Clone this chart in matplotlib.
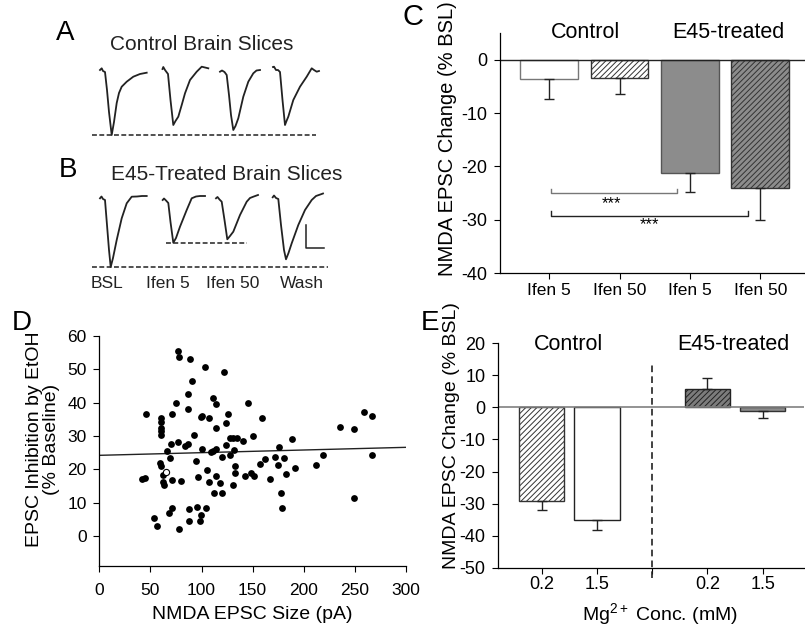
import numpy as np
import matplotlib
matplotlib.use('Agg')
import matplotlib.pyplot as plt

plt.rcParams['font.family'] = ['Liberation Sans', 'DejaVu Sans']
plt.rcParams['axes.unicode_minus'] = False
plt.rcParams['hatch.linewidth'] = 0.7
plt.rcParams['mathtext.fontset'] = 'custom'
plt.rcParams['mathtext.rm'] = 'Liberation Sans'
plt.rcParams['mathtext.it'] = 'Liberation Sans:italic'
plt.rcParams['mathtext.bf'] = 'Liberation Sans:bold'

# ---------------- A/B: example NMDA EPSC traces ----------------
# time from trace start and current relative to baseline (arbitrary units, negative = inward)
a_bsl_t = [0, 1.7, 3, 5, 7, 9, 11.7, 14, 16.7, 19, 21.7, 26.7, 33.3, 40, 46.7]
a_bsl_i = [1.5, 3.2, 0.5, -0.5, -18.5, -40.5, -63.5, -50.5, -31.5, -21.5, -15.2, -10.2, -5.2, -2.5, -1.2]
a_if5_t = [0, 0.8, 2.5, 5.5, 8, 10.8, 13, 15.8, 19.5, 22.5, 27.5, 34.2, 39.2, 42.5, 45.8]
a_if5_i = [1, 3, 0, -4, -30, -55, -51, -46.7, -34, -23.3, -10, -1.7, 3.3, 2.5, 1.7]
a_if50_t = [0, 2, 4.5, 6.7, 9, 11, 13.3, 15.5, 18.3, 23.3, 28.3, 33.3, 36.5, 40]
a_if50_i = [-0.2, 1, -0.5, -3.5, -23.5, -43.5, -58.5, -54.5, -46.8, -25.2, -10.2, -1.8, 1, 1.5]
a_wash_t = [0, 1, 3, 5, 7, 9.5, 12, 13.5, 15.3, 20.3, 27, 33.7, 38.7, 41, 43.7, 46]
a_wash_i = [3.5, 3.8, 0.5, 0.5, -1.5, -29.5, -54.5, -50.5, -46.2, -29.5, -16.2, -6.2, 2.2, 0.5, -1.2, -0.5]

b_bsl_t = [0, 1.5, 3, 5, 7, 9, 10.7, 13, 16.7, 21.7, 26.7, 31.7, 37, 42, 46.7]
b_bsl_i = [-0.3, 1.5, -1, -2, -27, -52, -69, -60, -42, -20.3, -5.3, 1.3, 1.5, 2, 2]
b_if5_t = [0, 1.3, 3.3, 5.6, 7.8, 10.6, 13.3, 17.3, 24, 29, 33.3, 37.3, 42.3]
b_if5_i = [0, 1.5, -0.5, -3, -22, -42.7, -38, -26.7, -10, 1.7, 3.5, 4, 4]
b_if50_t = [0, 1.5, 3.5, 5.7, 8.5, 11.3, 14, 17.3, 24, 30.7, 34, 37.3, 42]
b_if50_i = [1.2, 2.5, 0, -2.2, -20.5, -39.8, -36.5, -32.2, -15.5, -2.2, 1.5, 2.8, 4.5]
b_wash_t = [0, 1.3, 3.3, 5.6, 8.3, 11.3, 13.3, 15.8, 19, 25.6, 32.3, 39, 43.3, 49, 50.3]
b_wash_i = [0.2, 2, -0.5, -1.5, -27.5, -52.5, -61.8, -55.5, -45.8, -27.5, -12.5, -2.5, 1.5, 3.5, 4]

trace_labels = ['BSL', 'Ifen 5', 'Ifen 50', 'Wash']

# ---------------- C: ifenprodil effect ----------------
c_labels = ['Ifen 5', 'Ifen 50', 'Ifen 5', 'Ifen 50']
c_mean = [-3.6, -3.4, -21.2, -24.1]
c_sem = [3.8, 3.1, 3.6, 6.0]

# ---------------- D: inhibition vs EPSC size ----------------
epsc_size = [77.3, 78.3, 88.4, 103.4, 122.3, 90.4, 87.1, 110.9, 75.5, 114.2, 145.2, 87.1,
             45.5, 70.9, 60.1, 60.1, 99.4, 100.8, 107.6, 126.2, 159.2, 60.1, 60.3, 60.7,
             114.2, 124.1, 93.1, 150.8, 188.8, 235.6, 249.4, 258.5, 266.7, 266.7, 248.7,
             218.4, 211.9, 191.7, 182.6, 180.6, 176.0, 174.7, 171.7, 166.5, 161.9, 157.1,
             151.8, 147.9, 142.9, 177.9, 178.9, 140.6, 135.1, 131.1, 127.5, 123.5, 127.9,
             132.1, 132.9, 132.9, 131.1, 113.9, 111.5, 109.0, 100.2, 119.9, 118.1, 105.5,
             114.2, 107.3, 112.6, 120.3, 96.1, 94.4, 83.9, 86.8, 76.7, 70.1, 66.3, 69.5,
             59.8, 60.1, 62.6, 62.6, 63.3, 70.8, 79.7, 42.0, 44.4, 53.7, 56.7, 71.6, 68.5,
             78.0, 88.0, 87.3, 95.3, 99.0, 98.2, 104.0]
inhibition = [55.6, 53.6, 53.0, 50.6, 49.3, 46.6, 42.6, 41.4, 40.0, 39.6, 39.8, 38.1,
              36.6, 36.6, 35.3, 34.3, 35.7, 36.0, 35.5, 36.6, 35.3, 32.3, 31.5, 30.4,
              32.5, 33.9, 30.2, 30.0, 29.1, 32.8, 32.1, 37.1, 36.1, 24.4, 11.4,
              24.2, 21.2, 20.4, 18.7, 23.4, 26.8, 21.2, 23.8, 17.0, 23.0, 21.7,
              18.0, 19.0, 18.0, 13.0, 8.4, 28.5, 29.5, 29.5, 29.3, 27.2, 24.3,
              25.8, 21.1, 19.0, 15.4, 26.1, 25.5, 25.1, 26.1, 23.6, 15.9, 19.8,
              17.9, 16.2, 13.0, 13.0, 17.7, 22.4, 27.1, 27.5, 28.1, 27.5, 25.5, 23.5,
              22.0, 20.9, 18.4, 16.2, 15.4, 16.7, 16.6, 17.0, 17.4, 5.4, 2.9, 8.4, 7.0,
              2.2, 8.0, 4.6, 8.6, 6.2, 4.4, 8.5]
open_size = [65.0]
open_inhib = [19.2]
fit_intercept = 24.2
fit_slope = 0.0080

# ---------------- E: Mg2+ dependence ----------------
e_labels = ['0.2', '1.5', '0.2', '1.5']
e_mean = [-29.1, -35.2, 5.8, -1.25]
e_sem = [2.7, 2.9, 3.3, 2.05]

W, H = 805, 625
fig = plt.figure(figsize=(W / 100, H / 100), dpi=100)


def box(l, t, r, b):
    return [l / W, (H - b) / H, (r - l) / W, (b - t) / H]


def style(ax, fs=13):
    for s in ['top', 'right']:
        ax.spines[s].set_visible(False)
    for s in ['left', 'bottom']:
        ax.spines[s].set_linewidth(0.9)
    ax.tick_params(direction='out', length=4, width=0.8, labelsize=fs, pad=5)


# ---- traces panel (pixel-like layout coordinates) ----
ax_t = fig.add_axes([0, (H - 300) / H, 400 / W, 300 / H])
ax_t.set_xlim(0, 400)
ax_t.set_ylim(300, 0)
ax_t.axis('off')

a_traces = [(a_bsl_t, a_bsl_i), (a_if5_t, a_if5_i), (a_if50_t, a_if50_i), (a_wash_t, a_wash_i)]
b_traces = [(b_bsl_t, b_bsl_i), (b_if5_t, b_if5_i), (b_if50_t, b_if50_i), (b_wash_t, b_wash_i)]
a_x0 = [100, 162.5, 220, 273]
a_base = [71.5, 70, 71.5, 70.5]
b_x0 = [100, 162.7, 216, 272.7]
b_base = [198, 200, 199.5, 197.5]

for (t, i), x0, y0 in zip(a_traces, a_x0, a_base):
    ax_t.plot(x0 + np.array(t), y0 - np.array(i), color='#222222', lw=1.3)
for (t, i), x0, y0 in zip(b_traces, b_x0, b_base):
    ax_t.plot(x0 + np.array(t), y0 - np.array(i), color='#222222', lw=1.3)

dash = (0, (3.2, 1.6))
a_peak = a_base[0] - min(a_bsl_i)
b_peak = b_base[0] - min(b_bsl_i)
b_if_peak = b_base[1] - min(b_if5_i)
ax_t.plot([92, 316], [a_peak, a_peak], color='#222222', lw=1.1, ls=dash)
ax_t.plot([92, 328], [b_peak, b_peak], color='#222222', lw=1.1, ls=dash)
ax_t.plot([166, 247], [b_if_peak, b_if_peak], color='#222222', lw=1.1, ls=dash)
# scale bar
ax_t.plot([306, 306, 324], [225, 248, 248], color='#222222', lw=1.1)

ax_t.text(65, 33, 'A', fontsize=20, ha='center', va='center')
ax_t.text(68, 170, 'B', fontsize=20, ha='center', va='center')
ax_t.text(202, 45, 'Control Brain Slices', fontsize=15, ha='center', va='center', color='#222222')
ax_t.text(227, 175, 'E45-Treated Brain Slices', fontsize=15, ha='center', va='center', color='#222222')
for lab, xc in zip(trace_labels, [107, 168, 233, 302]):
    ax_t.text(xc, 284, lab, fontsize=12.5, ha='center', va='center', color='#222222')

# ---- C ----
ax_c = fig.add_axes(box(500, 33, 806, 273))
style(ax_c)
xc = np.arange(len(c_mean))
ax_c.bar(xc[0], c_mean[0], width=0.82, color='white', edgecolor='#777777', lw=1)
ax_c.bar(xc[1], c_mean[1], width=0.82, color='white', edgecolor='#333333', lw=1, hatch='//////')
ax_c.bar(xc[2], c_mean[2], width=0.82, color='#8c8c8c', edgecolor='#555555', lw=1)
ax_c.bar(xc[3], c_mean[3], width=0.82, color='#8c8c8c', edgecolor='#333333', lw=1, hatch='//////')
ax_c.errorbar(xc, c_mean, yerr=[c_sem, [0] * 4], fmt='none', ecolor='#222222',
              elinewidth=1, capsize=3.5, capthick=1)
ax_c.axhline(0, color='#222222', lw=1)
ax_c.set_xlim(-0.7, 3.65)
ax_c.set_ylim(-40, 5)
ax_c.set_yticks([0, -10, -20, -30, -40])
ax_c.set_xticks(xc)
ax_c.set_xticklabels(c_labels, fontsize=12.5)
ax_c.tick_params(axis='x', pad=3)
ax_c.set_ylabel('NMDA EPSC Change (% BSL)', fontsize=14.5)
ax_c.yaxis.set_label_coords(-0.14, 0.56)
# significance brackets
ax_c.plot([0.02, 0.02, 1.82, 1.82], [-24.2, -25.0, -25.0, -24.2], color='#777777', lw=1)
ax_c.plot([0.02, 0.02, 2.82, 2.82], [-28.3, -29.3, -29.3, -28.3], color='#222222', lw=1)
ax_c.text(0.89, -27.0, '***', fontsize=12, ha='center', va='center')
ax_c.text(1.43, -31.0, '***', fontsize=12, ha='center', va='center')
ax_c.text(0.51, 5, 'Control', fontsize=15.5, ha='center', va='center')
ax_c.text(2.55, 5, 'E45-treated', fontsize=15.5, ha='center', va='center')
fig.text(413 / W, (H - 17) / H, 'C', fontsize=21, ha='center', va='center')

# ---- D ----
ax_d = fig.add_axes(box(99.3, 336, 406, 566))
style(ax_d, 12.5)
ax_d.scatter(epsc_size, inhibition, s=24, color='black', zorder=3, linewidths=0)
ax_d.scatter(open_size, open_inhib, s=20, facecolor='white', edgecolor='black',
             linewidths=0.8, zorder=4)
fx = np.array([0, 300])
ax_d.plot(fx, fit_intercept + fit_slope * fx, color='#222222', lw=1)
ax_d.set_xlim(0, 300)
ax_d.set_ylim(-9, 60)
ax_d.set_xticks(np.arange(0, 301, 50))
ax_d.set_yticks(np.arange(0, 61, 10))
ax_d.tick_params(axis='x', pad=8)
ax_d.set_xlabel('NMDA EPSC Size (pA)', fontsize=14)
ax_d.xaxis.set_label_coords(0.5, -0.172)
ax_d.set_ylabel('EPSC Inhibition by EtOH\n(% Baseline)', fontsize=14, linespacing=1.0)
ax_d.yaxis.set_label_coords(-0.128, 0.55)
fig.text(22 / W, (H - 323) / H, 'D', fontsize=20, ha='center', va='center')

# ---- E ----
ax_e = fig.add_axes(box(498, 343, 804, 568))
style(ax_e)
xe = np.array([0, 1, 3, 4])
ax_e.bar(xe[0], e_mean[0], width=0.82, color='white', edgecolor='#333333', lw=1, hatch='//////')
ax_e.bar(xe[1], e_mean[1], width=0.82, color='white', edgecolor='#222222', lw=1)
ax_e.bar(xe[2], e_mean[2], width=0.82, color='#7c7c7c', edgecolor='#222222', lw=1, hatch='//////')
ax_e.bar(xe[3], e_mean[3], width=0.82, color='#8c8c8c', edgecolor='#333333', lw=1)
lo = [s if m < 0 else 0 for m, s in zip(e_mean, e_sem)]
hi = [s if m >= 0 else 0 for m, s in zip(e_mean, e_sem)]
ax_e.errorbar(xe, e_mean, yerr=[lo, hi], fmt='none', ecolor='#222222',
              elinewidth=1, capsize=3.5, capthick=1)
ax_e.axhline(0, color='#808080', lw=1.2)
ax_e.plot([2, 2], [-53, 14.2], color='#222222', lw=1.2, ls=(0, (4, 2.5)), clip_on=False)
ax_e.set_xlim(-0.79, 4.75)
ax_e.set_ylim(-50, 20)
ax_e.set_yticks(np.arange(20, -51, -10))
ax_e.set_xticks([0, 1, 2, 3, 4])
ax_e.set_xticklabels([e_labels[0], e_labels[1], '', e_labels[2], e_labels[3]], fontsize=13)
ax_e.tick_params(axis='x', pad=2)
ax_e.set_xlabel('Mg$^{2+}$ Conc. (mM)', fontsize=14)
ax_e.xaxis.set_label_coords(0.53, -0.145)
ax_e.set_ylabel('NMDA EPSC Change (% BSL)', fontsize=14)
ax_e.yaxis.set_label_coords(-0.125, 0.59)
ax_e.text(0.48, 19.4, 'Control', fontsize=15.5, ha='center', va='center')
ax_e.text(3.48, 19.4, 'E45-treated', fontsize=15.5, ha='center', va='center')
fig.text(430 / W, (H - 323) / H, 'E', fontsize=20, ha='center', va='center')

fig.savefig('out.png', dpi=100)
